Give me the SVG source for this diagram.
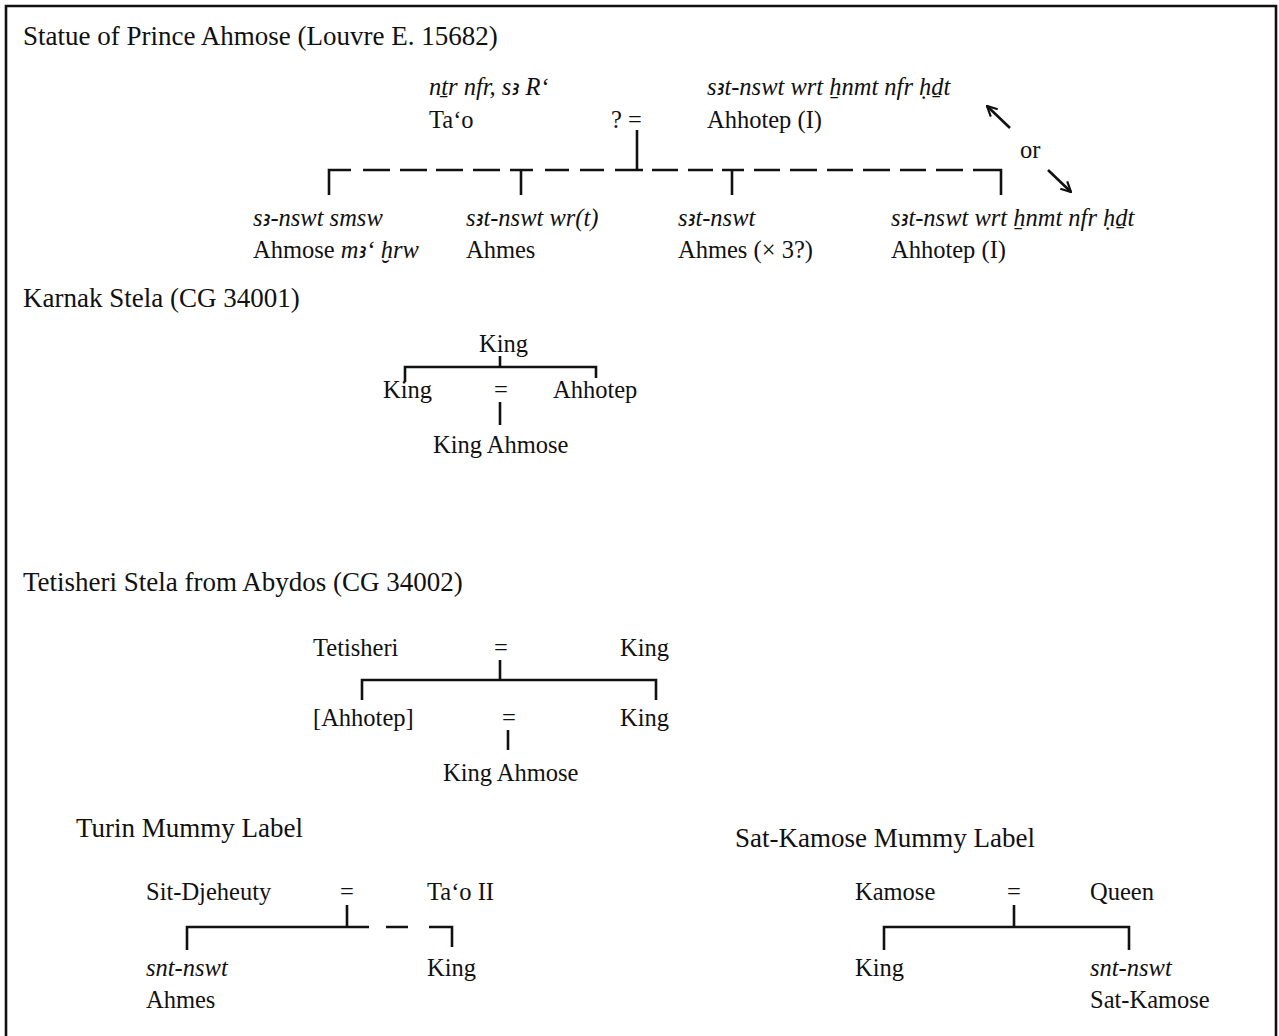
<svg xmlns="http://www.w3.org/2000/svg" width="1279" height="1036" viewBox="0 0 1279 1036">
  <style>
    text { font-family: "Liberation Serif", "DejaVu Serif", "DejaVu Sans", serif; font-size: 24.5px; fill: #111; }
    .hd { font-size: 27px; }
    .it { font-style: italic; }
    .al { font-size: 0.9em; }
    .ln { stroke: #111; stroke-width: 2.6; fill: none; }
  </style>
  <defs>
    <marker id="head" viewBox="0 0 12 12" refX="11" refY="6" markerWidth="12" markerHeight="12" markerUnits="userSpaceOnUse" orient="auto">
      <path d="M1,1 L11,6 L1,11" stroke="#111" stroke-width="2.2" fill="none"/>
    </marker>
  </defs>
  <rect width="1279" height="1036" fill="#fff"/>
  <!-- frame: open at the bottom -->
  <path class="ln" d="M6,1036 V6 H1276 V1036" stroke-width="3"/>

  <!-- Section 1: Statue of Prince Ahmose -->
  <text class="hd" x="23" y="45">Statue of Prince Ahmose (Louvre E. 15682)</text>
  <g id="tao">
    <text class="it" x="429" y="95">nṯr nfr, s<tspan class="al">ꜣ</tspan> R‘</text>
    <text x="429" y="128">Ta‘o</text>
  </g>
  <g id="marriage1">
    <text x="611" y="128">? =</text>
  </g>
  <g id="ahhotep-top">
    <text class="it" x="707" y="95">s<tspan class="al">ꜣ</tspan>t-nswt wrt ẖnmt nfr ḥḏt</text>
    <text x="707" y="128">Ahhotep (I)</text>
  </g>
  <g id="or-note">
    <text x="1020" y="158">or</text>
  </g>
  <g id="ahmose">
    <text class="it" x="253" y="226">s<tspan class="al">ꜣ</tspan>-nswt smsw</text>
    <text x="253" y="258">Ahmose <tspan class="it">m<tspan class="al">ꜣ</tspan>‘ ḫrw</tspan></text>
  </g>
  <g id="ahmes-wrt">
    <text class="it" x="466" y="226">s<tspan class="al">ꜣ</tspan>t-nswt wr(t)</text>
    <text x="466" y="258">Ahmes</text>
  </g>
  <g id="ahmes-x3">
    <text class="it" x="678" y="226">s<tspan class="al">ꜣ</tspan>t-nswt</text>
    <text x="678" y="258">Ahmes (× 3?)</text>
  </g>
  <g id="ahhotep-bottom">
    <text class="it" x="891" y="226">s<tspan class="al">ꜣ</tspan>t-nswt wrt ẖnmt nfr ḥḏt</text>
    <text x="891" y="258">Ahhotep (I)</text>
  </g>

  <!-- Section 2: Karnak Stela -->
  <text class="hd" x="23" y="307">Karnak Stela (CG 34001)</text>
  <g id="karnak-king-top"><text x="479" y="352">King</text></g>
  <g id="karnak-king"><text x="383" y="398">King</text></g>
  <g id="karnak-eq"><text x="494" y="398">=</text></g>
  <g id="karnak-ahhotep"><text x="553" y="398">Ahhotep</text></g>
  <g id="karnak-ahmose"><text x="433" y="453">King Ahmose</text></g>

  <!-- Section 3: Tetisheri Stela -->
  <text class="hd" x="23" y="591">Tetisheri Stela from Abydos (CG 34002)</text>
  <g id="tetisheri"><text x="313" y="656">Tetisheri</text></g>
  <g id="teti-eq1"><text x="494" y="656">=</text></g>
  <g id="teti-king1"><text x="620" y="656">King</text></g>
  <g id="teti-ahhotep"><text x="313" y="726">[Ahhotep]</text></g>
  <g id="teti-eq2"><text x="502" y="726">=</text></g>
  <g id="teti-king2"><text x="620" y="726">King</text></g>
  <g id="teti-ahmose"><text x="443" y="781">King Ahmose</text></g>

  <!-- Section 4: Turin Mummy Label -->
  <text class="hd" x="76" y="837">Turin Mummy Label</text>
  <g id="sit-djeheuty"><text x="146" y="900">Sit-Djeheuty</text></g>
  <g id="turin-eq"><text x="340" y="900">=</text></g>
  <g id="tao-ii"><text x="427" y="900">Ta‘o II</text></g>
  <g id="turin-ahmes">
    <text class="it" x="146" y="976">snt-nswt</text>
    <text x="146" y="1008">Ahmes</text>
  </g>
  <g id="turin-king"><text x="427" y="976">King</text></g>

  <!-- Section 5: Sat-Kamose Mummy Label -->
  <text class="hd" x="735" y="847">Sat-Kamose Mummy Label</text>
  <g id="kamose"><text x="855" y="900">Kamose</text></g>
  <g id="kamose-eq"><text x="1007" y="900">=</text></g>
  <g id="queen"><text x="1090" y="900">Queen</text></g>
  <g id="kamose-king"><text x="855" y="976">King</text></g>
  <g id="sat-kamose">
    <text class="it" x="1090" y="976">snt-nswt</text>
    <text x="1090" y="1008">Sat-Kamose</text>
  </g>

  <g id="connectors">
    <!-- statue: descent from the couple, dashed sibling line -->
    <path class="ln" d="M637,130 V170"/>
    <path class="ln" d="M329,195 V170 H351
      M363,170 H390 M400,170 H427 M436,170 H463 M473,170 H500
      M510,170 H533 M521,170 V195
      M545,170 H569 M580,170 H604 M615,170 H643 M652,170 H678 M688,170 H713
      M722,170 H744 M732,170 V195
      M754,170 H780 M790,170 H817 M827,170 H853 M863,170 H890
      M900,170 H926 M936,170 H963
      M973,170 H1001 V195"/>
    <path class="ln" d="M1010,128 L987,106" marker-end="url(#head)"/>
    <path class="ln" d="M1048,170 L1071,192" marker-end="url(#head)"/>
    <!-- karnak -->
    <path class="ln" d="M500,356 V367 M405,382 V367 H596 V378"/>
    <path class="ln" d="M500,402 V425"/>
    <!-- tetisheri -->
    <path class="ln" d="M500,660 V680 M362,700 V680 H656 V700"/>
    <path class="ln" d="M508,730 V750"/>
    <!-- turin -->
    <path class="ln" d="M347,905 V927 M187,950 V927 H369"/>
    <path class="ln" d="M386,927 H408 M429,927 H452 V947"/>
    <!-- sat-kamose -->
    <path class="ln" d="M1014,905 V927 M884,950 V927 H1129 V950"/>
  </g>
</svg>
